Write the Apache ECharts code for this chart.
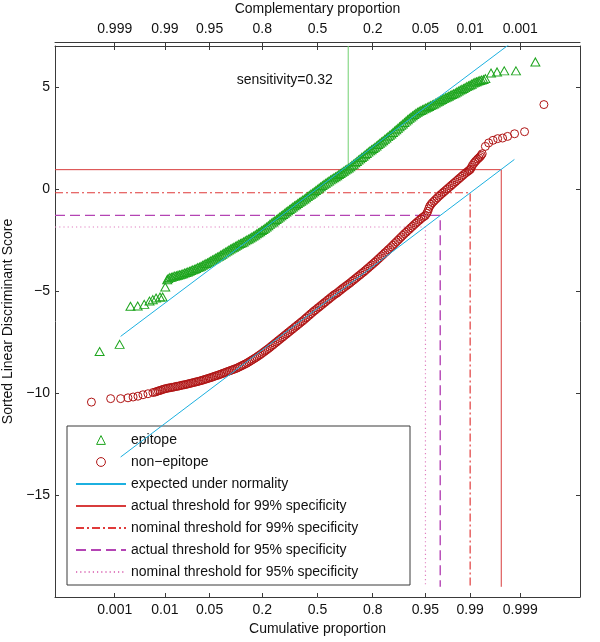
<!DOCTYPE html>
<html><head><meta charset="utf-8">
<script src="https://cdn.jsdelivr.net/npm/echarts@6/dist/echarts.min.js"></script>
<style>html,body{margin:0;padding:0;background:#fff}#c{width:600px;height:642px}</style>
</head><body><div id="c"></div>
<script>
// ---- tick labels (probit scale positions) ----
const zTicks = [-3.0902, -2.3263, -1.6449, -0.8416, 0, 0.8416, 1.6449, 2.3263, 3.0902];
const cumulativeLabels = ['0.001', '0.01', '0.05', '0.2', '0.5', '0.8', '0.95', '0.99', '0.999'];
const complementaryLabels = ['0.999', '0.99', '0.95', '0.8', '0.5', '0.2', '0.05', '0.01', '0.001'];
const yTicks = [-15, -10, -5, 0, 5];

// ---- epitope: [normal quantile z, sorted score] ----
const epitopePoints = [
[-3.32,-7.97],[-3.015,-7.62],[-2.85,-5.75],[-2.74,-5.74],[-2.64,-5.66],[-2.56,-5.50],[-2.51,-5.43],[-2.46,-5.35],[-2.40,-5.30],[-2.36,-5.30],[-2.32,-4.81],[-2.29,-4.45],
[-2.275,-4.40],[-2.25,-4.35],[-2.225,-4.33],[-2.20,-4.30],[-2.175,-4.27],[-2.15,-4.26],[-2.125,-4.23],[-2.10,-4.21],[-2.075,-4.19],[-2.05,-4.16],[-2.025,-4.12],[-2.00,-4.10],
[-1.975,-4.07],[-1.95,-4.04],[-1.925,-4.00],[-1.90,-3.97],[-1.875,-3.94],[-1.85,-3.90],[-1.825,-3.86],[-1.80,-3.83],[-1.775,-3.79],[-1.75,-3.75],[-1.725,-3.70],[-1.70,-3.66],
[-1.675,-3.62],[-1.65,-3.57],[-1.625,-3.53],[-1.60,-3.48],[-1.575,-3.44],[-1.55,-3.39],[-1.525,-3.34],[-1.50,-3.30],[-1.475,-3.25],[-1.45,-3.20],[-1.425,-3.15],[-1.40,-3.10],
[-1.375,-3.05],[-1.35,-3.00],[-1.325,-2.95],[-1.30,-2.90],[-1.275,-2.86],[-1.25,-2.81],[-1.225,-2.77],[-1.20,-2.72],[-1.175,-2.68],[-1.15,-2.64],[-1.125,-2.60],[-1.10,-2.55],
[-1.075,-2.50],[-1.05,-2.46],[-1.025,-2.41],[-1.00,-2.36],[-0.975,-2.31],[-0.95,-2.26],[-0.925,-2.20],[-0.90,-2.15],[-0.875,-2.10],[-0.85,-2.04],[-0.825,-1.99],[-0.80,-1.93],
[-0.775,-1.87],[-0.75,-1.81],[-0.725,-1.74],[-0.70,-1.68],[-0.675,-1.62],[-0.65,-1.56],[-0.625,-1.50],[-0.60,-1.44],[-0.575,-1.38],[-0.55,-1.32],[-0.525,-1.26],[-0.50,-1.20],
[-0.475,-1.13],[-0.45,-1.07],[-0.425,-1.01],[-0.40,-0.95],[-0.375,-0.89],[-0.35,-0.83],[-0.325,-0.78],[-0.30,-0.72],[-0.275,-0.66],[-0.25,-0.61],[-0.225,-0.55],[-0.20,-0.50],
[-0.175,-0.44],[-0.15,-0.38],[-0.125,-0.32],[-0.10,-0.26],[-0.075,-0.20],[-0.05,-0.14],[-0.025,-0.08],[0.00,-0.02],[0.025,0.04],[0.05,0.10],[0.075,0.16],[0.10,0.22],
[0.125,0.27],[0.15,0.33],[0.175,0.38],[0.20,0.44],[0.225,0.49],[0.25,0.54],[0.275,0.59],[0.30,0.64],[0.325,0.70],[0.35,0.75],[0.375,0.81],[0.40,0.86],
[0.425,0.92],[0.45,0.97],[0.475,1.02],[0.50,1.08],[0.525,1.15],[0.55,1.21],[0.575,1.28],[0.60,1.34],[0.625,1.41],[0.65,1.47],[0.675,1.54],[0.70,1.60],
[0.725,1.67],[0.75,1.73],[0.775,1.80],[0.80,1.86],[0.825,1.92],[0.85,1.98],[0.875,2.04],[0.90,2.10],[0.925,2.17],[0.95,2.23],[0.975,2.30],[1.00,2.36],
[1.025,2.43],[1.05,2.49],[1.075,2.56],[1.10,2.62],[1.125,2.69],[1.15,2.76],[1.175,2.83],[1.20,2.90],[1.225,2.97],[1.25,3.04],[1.275,3.11],[1.30,3.18],
[1.325,3.25],[1.35,3.32],[1.375,3.39],[1.40,3.46],[1.425,3.52],[1.45,3.58],[1.475,3.64],[1.50,3.70],[1.525,3.75],[1.55,3.80],[1.575,3.84],[1.60,3.88],
[1.625,3.92],[1.65,3.96],[1.675,4.00],[1.70,4.04],[1.725,4.08],[1.75,4.12],[1.775,4.16],[1.80,4.20],[1.825,4.25],[1.85,4.29],[1.875,4.34],[1.90,4.38],
[1.925,4.42],[1.95,4.46],[1.975,4.50],[2.00,4.54],[2.025,4.58],[2.05,4.62],[2.075,4.66],[2.10,4.70],[2.125,4.75],[2.15,4.79],[2.175,4.84],[2.20,4.88],
[2.225,4.92],[2.25,4.96],[2.275,5.01],[2.30,5.05],[2.325,5.09],[2.35,5.13],[2.375,5.18],[2.40,5.22],[2.425,5.25],[2.45,5.28],[2.475,5.31],[2.50,5.33],
[2.53,5.36],[2.558,5.40],[2.644,5.68],[2.736,5.73],[2.846,5.78],[3.024,5.78],[3.32,6.22]
];

// ---- non-epitope: [normal quantile z, sorted score] ----
const nonEpitopePoints = [
[-3.445,-10.45],[-3.152,-10.28],[-3.000,-10.28],[-2.888,-10.24],[-2.810,-10.20],[-2.736,-10.16],[-2.660,-10.09],[-2.584,-10.04],[-2.508,-9.98],
[-2.475,-9.96],[-2.45,-9.93],[-2.425,-9.90],[-2.40,-9.88],[-2.375,-9.85],[-2.35,-9.82],[-2.325,-9.80],[-2.30,-9.78],[-2.275,-9.76],[-2.25,-9.75],[-2.225,-9.73],[-2.20,-9.72],
[-2.175,-9.70],[-2.15,-9.68],[-2.125,-9.67],[-2.10,-9.65],[-2.075,-9.63],[-2.05,-9.61],[-2.025,-9.60],[-2.00,-9.58],[-1.975,-9.56],[-1.95,-9.54],[-1.925,-9.52],[-1.90,-9.50],
[-1.875,-9.48],[-1.85,-9.46],[-1.825,-9.44],[-1.80,-9.42],[-1.775,-9.40],[-1.75,-9.37],[-1.725,-9.35],[-1.70,-9.32],[-1.675,-9.30],[-1.65,-9.27],[-1.625,-9.25],[-1.60,-9.22],
[-1.575,-9.19],[-1.55,-9.16],[-1.525,-9.14],[-1.50,-9.11],[-1.475,-9.08],[-1.45,-9.05],[-1.425,-9.02],[-1.40,-8.99],[-1.375,-8.96],[-1.35,-8.93],[-1.325,-8.90],[-1.30,-8.87],
[-1.275,-8.84],[-1.25,-8.81],[-1.225,-8.78],[-1.20,-8.74],[-1.175,-8.70],[-1.15,-8.66],[-1.125,-8.62],[-1.10,-8.58],[-1.075,-8.54],[-1.05,-8.49],[-1.025,-8.44],[-1.00,-8.39],
[-0.975,-8.34],[-0.95,-8.29],[-0.925,-8.24],[-0.90,-8.18],[-0.875,-8.13],[-0.85,-8.07],[-0.825,-8.01],[-0.80,-7.95],[-0.775,-7.89],[-0.75,-7.83],[-0.725,-7.77],[-0.70,-7.70],
[-0.675,-7.64],[-0.65,-7.57],[-0.625,-7.51],[-0.60,-7.44],[-0.575,-7.38],[-0.55,-7.31],[-0.525,-7.25],[-0.50,-7.18],[-0.475,-7.12],[-0.45,-7.05],[-0.425,-6.99],[-0.40,-6.92],
[-0.375,-6.86],[-0.35,-6.79],[-0.325,-6.73],[-0.30,-6.66],[-0.275,-6.60],[-0.25,-6.53],[-0.225,-6.47],[-0.20,-6.40],[-0.175,-6.33],[-0.15,-6.26],[-0.125,-6.19],[-0.10,-6.12],
[-0.075,-6.05],[-0.05,-5.98],[-0.025,-5.92],[0.00,-5.85],[0.025,-5.79],[0.05,-5.72],[0.075,-5.66],[0.10,-5.59],[0.125,-5.53],[0.15,-5.46],[0.175,-5.40],[0.20,-5.33],
[0.225,-5.27],[0.25,-5.20],[0.275,-5.15],[0.30,-5.10],[0.325,-5.03],[0.35,-4.97],[0.375,-4.90],[0.40,-4.84],[0.425,-4.78],[0.45,-4.72],[0.475,-4.66],[0.50,-4.60],
[0.525,-4.53],[0.55,-4.47],[0.575,-4.40],[0.60,-4.34],[0.625,-4.27],[0.65,-4.21],[0.675,-4.14],[0.70,-4.08],[0.725,-4.01],[0.75,-3.94],[0.775,-3.87],[0.80,-3.80],
[0.825,-3.73],[0.85,-3.66],[0.875,-3.59],[0.90,-3.52],[0.925,-3.44],[0.95,-3.37],[0.975,-3.29],[1.00,-3.22],[1.025,-3.14],[1.05,-3.07],[1.075,-2.99],[1.10,-2.92],
[1.125,-2.84],[1.15,-2.76],[1.175,-2.68],[1.20,-2.60],[1.225,-2.52],[1.25,-2.44],[1.275,-2.36],[1.30,-2.28],[1.325,-2.20],[1.35,-2.13],[1.375,-2.05],[1.40,-1.98],
[1.425,-1.90],[1.45,-1.83],[1.475,-1.75],[1.50,-1.68],[1.525,-1.61],[1.55,-1.54],[1.575,-1.47],[1.60,-1.40],[1.625,-1.35],[1.645,-1.30],[1.665,-1.20],[1.68,-1.10],
[1.695,-0.97],[1.71,-0.85],[1.73,-0.76],[1.75,-0.68],[1.775,-0.60],[1.80,-0.52],[1.825,-0.44],[1.85,-0.36],[1.875,-0.29],[1.90,-0.22],[1.925,-0.15],[1.95,-0.08],
[1.975,-0.01],[2.00,0.06],[2.025,0.13],[2.05,0.20],[2.075,0.27],[2.10,0.34],[2.125,0.41],[2.15,0.48],[2.175,0.55],[2.20,0.62],[2.225,0.69],[2.25,0.76],
[2.275,0.82],[2.30,0.88],[2.315,0.92],[2.33,0.96],[2.345,1.05],[2.36,1.15],[2.38,1.24],[2.40,1.32],[2.42,1.39],[2.44,1.46],[2.46,1.52],[2.48,1.58],[2.495,1.65],[2.51,1.72],
[2.558,2.08],[2.608,2.25],[2.675,2.38],[2.745,2.46],[2.820,2.49],[2.897,2.57],[3.003,2.70],[3.155,2.80],[3.450,4.13]
];

// ---- expected under normality (end points of fitted lines) ----
const normalZ = [-3.0, 3.0];
const epitopeNormal = [-7.23, 7.27];
const nonEpitopeNormal = [-13.14, 1.44];

// ---- thresholds: score level and z where the marker line turns down ----
const thresholdScore = { actual99: 0.94, nominal99: -0.19, actual95: -1.30, nominal95: -1.87 };
const thresholdZ = { actual99: 2.80, nominal99: 2.326, actual95: 1.87, nominal95: 1.645 };
const sensitivityZ = 0.468;
const sensitivityText = 'sensitivity=0.32';
const sensitivityTextAt = [-0.50, 5.32];
const yMin = -20, yMax = 7, xMin = -4, xMax = 4, lineBottom = -19.5;

const names = {
  ep: 'epitope', nep: 'non\u2212epitope', exp: 'expected under normality',
  a99: 'actual threshold for 99% specificity', n99: 'nominal threshold for 99% specificity',
  a95: 'actual threshold for 95% specificity', n95: 'nominal threshold for 95% specificity'
};

function pairs(xs, ys) { const n = Math.min(xs.length, ys.length); const out = []; for (let i = 0; i < n; i++) out.push([xs[i], ys[i]]); return out; }
function thresholdPath(key) { return [[xMin, thresholdScore[key]], [thresholdZ[key], thresholdScore[key]], [thresholdZ[key], lineBottom]]; }
function tickLabel(list) { return function (v) { const i = zTicks.findIndex(t => Math.abs(t - v) < 1e-4); return i >= 0 ? list[i] : ''; }; }

const font = '"Liberation Sans", Arial, Helvetica, sans-serif';
const axisColor = '#3a3a3a';
const txt = { color: '#111', fontSize: 14, fontFamily: font };
const clear = 'rgba(0,0,0,0)';

function lineSeries(name, data, lineStyle, z) {
  return { name, type: 'line', data, symbol: 'none', z: z || 1, silent: true, clip: true,
    itemStyle: { color: clear, borderWidth: 0 }, lineStyle };
}
function markerSeries(name, data, symbol, size, color) {
  return { name, type: 'line', data, symbol, symbolSize: size, showSymbol: true, showAllSymbol: true,
    z: 3, silent: true, clip: true,
    lineStyle: { width: 0, opacity: 0 },
    itemStyle: { color: clear, borderColor: color, borderWidth: 1 } };
}

const chart = echarts.init(document.getElementById('c'), null, { renderer: 'canvas' });
chart.setOption({
  animation: false,
  backgroundColor: '#fff',
  textStyle: { fontFamily: font },
  grid: { left: 55, right: 20, top: 46, bottom: 45, outerBoundsMode: 'none', containLabel: false },
  xAxis: [
    { type: 'value', position: 'bottom', min: xMin, max: xMax,
      axisLine: { show: true, onZero: false, lineStyle: { color: axisColor, width: 1 } },
      axisTick: { show: true, inside: true, length: 4, customValues: zTicks, lineStyle: { color: axisColor } },
      axisLabel: Object.assign({ customValues: zTicks, formatter: tickLabel(cumulativeLabels), margin: 6 }, txt),
      splitLine: { show: false },
      name: 'Cumulative proportion', nameLocation: 'middle', nameGap: 24, nameTextStyle: txt },
    { type: 'value', position: 'top', offset: 4, min: xMin, max: xMax,
      axisLine: { show: true, onZero: false, lineStyle: { color: axisColor, width: 1 } },
      axisTick: { show: true, inside: true, length: 8, customValues: zTicks, lineStyle: { color: axisColor } },
      axisLabel: Object.assign({ customValues: zTicks, formatter: tickLabel(complementaryLabels), margin: 6 }, txt),
      splitLine: { show: false },
      name: 'Complementary proportion', nameLocation: 'middle', nameGap: 26, nameTextStyle: txt },
    { type: 'value', position: 'top', offset: 0, min: xMin, max: xMax,
      axisLine: { show: true, onZero: false, lineStyle: { color: axisColor, width: 1 } },
      axisTick: { show: false }, axisLabel: { show: false }, splitLine: { show: false } }
  ],
  yAxis: [
    { type: 'value', position: 'left', min: yMin, max: yMax,
      axisLine: { show: true, onZero: false, lineStyle: { color: axisColor, width: 1 } },
      axisTick: { show: true, inside: true, length: 4, customValues: yTicks, lineStyle: { color: axisColor } },
      axisLabel: Object.assign({ customValues: yTicks, margin: 5, formatter: v => String(v).replace('-', '\u2212') }, txt),
      splitLine: { show: false },
      name: 'Sorted Linear Discriminant Score', nameLocation: 'middle', nameGap: 29, nameRotate: 90, nameTextStyle: txt },
    { type: 'value', position: 'right', min: yMin, max: yMax,
      axisLine: { show: true, onZero: false, lineStyle: { color: axisColor, width: 1 } },
      axisTick: { show: true, inside: true, length: 4, customValues: yTicks, lineStyle: { color: axisColor } },
      axisLabel: { show: false }, splitLine: { show: false } }
  ],
  legend: {
    data: [names.ep, names.nep, names.exp, names.a99, names.n99, names.a95, names.n95],
    orient: 'vertical', left: 67, top: 426,
    itemWidth: 50, itemHeight: 11, itemGap: 8,
    padding: [7, 4, 6, 8],
    backgroundColor: '#fff', borderColor: axisColor, borderWidth: 1, borderRadius: 0,
    selectedMode: false,
    itemStyle: { borderWidth: 1 },
    textStyle: { color: '#111', fontSize: 14, fontFamily: font, width: 275, lineHeight: 14 }
  },
  series: [
    lineSeries(names.a99, thresholdPath('actual99'), { color: '#d83c3c', width: 1, type: 'solid' }),
    lineSeries(names.n99, thresholdPath('nominal99'), { color: '#e03a3a', width: 1.2, type: [8, 3, 2, 3] }),
    lineSeries(names.a95, thresholdPath('actual95'), { color: '#b444b4', width: 1.4, type: [10, 5] }),
    lineSeries(names.n95, thresholdPath('nominal95'), { color: '#e080c0', width: 1.2, type: [1.2, 3] }),
    lineSeries('sensitivity', [[sensitivityZ, thresholdScore.actual99], [sensitivityZ, yMax]], { color: '#70d070', width: 1 }),
    markerSeries(names.ep, epitopePoints, 'triangle', [9, 8], '#1ea51e'),
    markerSeries(names.nep, nonEpitopePoints, 'circle', 8, '#b01414'),
    lineSeries(names.exp, pairs(normalZ, epitopeNormal), { color: '#1cb0e0', width: 1 }, 4),
    lineSeries(names.exp, pairs(normalZ, nonEpitopeNormal), { color: '#1cb0e0', width: 1 }, 4)
  ]
});

const p = chart.convertToPixel({ xAxisIndex: 0, yAxisIndex: 0 }, sensitivityTextAt);
chart.setOption({
  graphic: [{ type: 'text', x: p[0], y: p[1], z: 10, silent: true,
    style: { text: sensitivityText, fill: '#111', font: '14px ' + font, align: 'center', verticalAlign: 'middle' } }]
});
</script></body></html>
